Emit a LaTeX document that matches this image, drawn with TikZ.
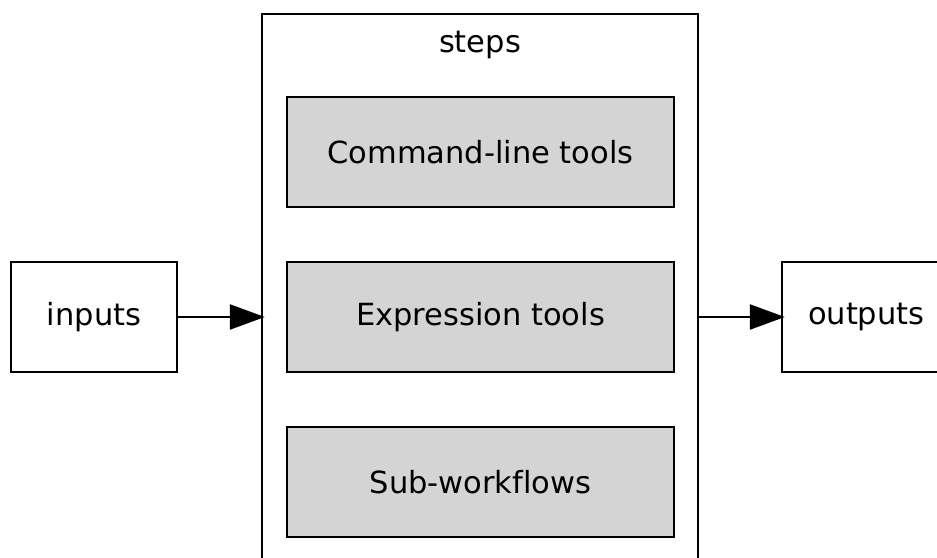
\documentclass[tikz,border=0pt]{standalone}
\usepackage{fontspec}
\setmainfont[Ligatures=NoCommon]{DejaVu Sans}
\usetikzlibrary{arrows.meta}
\begin{document}
\begin{tikzpicture}[x=1pt,y=-1pt,
  label font/.style={font=\fontsize{30.5}{36}\selectfont},
  box/.style={draw=black, line width=2.4pt, rectangle, inner sep=0pt,
    minimum height=110pt, label font},
  toolbox/.style={box, fill=black!17, minimum width=387pt},
  flow/.style={line width=2.4pt, shorten >=-4pt, -{Triangle[length=35pt,width=25pt]}}]
\useasboundingbox (0,0) rectangle (937,557);
\clip (0,0) rectangle (937,557);
\fill[white] (0,0) rectangle (937,557);
% cluster of steps (runs past the lower edge)
\node[box, minimum width=436pt, minimum height=586pt] (steps) at (480,307) {};
\node[label font, anchor=base] (stepslabel) at (480,52) {steps};
% the three kinds of step
\node[toolbox] (clt) at (480.5,152) {Command-line tools};
\node[toolbox] (expr) at (480.5,317) {Expression tools};
\node[toolbox] (sub) at (480.5,482) {Sub-workflows};
% inputs and outputs
\node[box, minimum width=166pt] (inputs) at (94,317) {inputs};
\node[box, minimum width=218pt, text width=150pt, align=left] (outputs) at (891,317) {\hspace*{-8pt}outputs};
% connectors
\draw[flow] (inputs.east) -- (inputs.east -| steps.west);
\draw[flow] (steps.east |- outputs.west) -- (outputs.west);
\end{tikzpicture}
\end{document}
